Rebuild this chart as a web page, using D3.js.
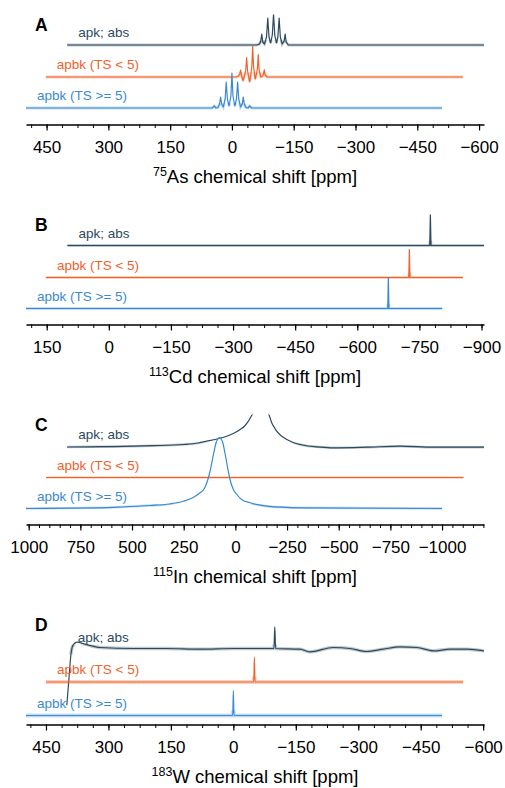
<!DOCTYPE html>
<html>
<head>
<meta charset="utf-8">
<script src="https://cdn.jsdelivr.net/npm/d3@7"></script>
<style>
  body { margin: 0; background: #fff; }
  text { font-family: "Liberation Sans", Arial, Helvetica, sans-serif; }
</style>
</head>
<body>
<svg width="505" height="788"></svg>
<script>
// Panels
// ------
var panelLetters = ['A', 'B', 'C', 'D'];
var isotopes = ['75', '113', '115', '183'];
var elements = ['As', 'Cd', 'In', 'W'];
var xDomains = [[500, -612], [200, -906], [1013, -1203], [498, -602]];
var majorTicks = [
  [450, 300, 150, 0, -150, -300, -450, -600],
  [150, 0, -150, -300, -450, -600, -750, -900],
  [1000, 750, 500, 250, 0, -250, -500, -750, -1000],
  [450, 300, 150, 0, -150, -300, -450, -600]
];
var minorSteps = [37.5, 37.5, 50, 37.5];
var smoothPanels = [false, false, true, true];

// Traces (ppm, intensity above own baseline)
// ------------------------------------------
var traceNames = ['apk; abs', 'apbk (TS < 5)', 'apbk (TS >= 5)'];
var traceColors = ['#2c4a5e', '#f0622a', '#3a8ad2'];
var stackOffsets = [[79.5, 47.5, 16.5], [79, 47, 16], [77.5, 47, 16], [75, 42.5, 9]];
var noiseLevels = [[0.8, 0.8, 0.8], [0.8, 0.8, 0.8], [0.6, 0.6, 0.6], [1.1, 1.3, 1.3]];

var asAbs = [[400, 0], [-60, 0], [-67, 1], [-70, 4], [-72.4, 11], [-74.8, 3], [-79, 1], [-84, 8],
  [-87, 27], [-90, 8], [-94, 2], [-98, 10], [-101, 31], [-104, 10], [-108, 2], [-111.5, 8],
  [-114.6, 27], [-117.5, 8], [-122, 1], [-126.8, 4], [-129.2, 11], [-131.6, 3], [-137, 0], [-612, 0]];
var asLow = [[452, 0], [-10, 0], [-16, 1], [-19, 3], [-21.1, 7], [-23.5, 1], [-27, -3.5], [-31, 2],
  [-33.5, 7], [-35.7, 19.5], [-38, 6], [-43, -5], [-46.5, 4], [-48.5, 12], [-50.3, 31], [-52.5, 10],
  [-56.5, -2], [-59.5, 3], [-62, 9], [-63.9, 22.5], [-66, 7], [-70, 0], [-74.5, 1], [-76.5, 3],
  [-78.5, 7.5], [-80.5, 2], [-85, 0], [-561, 0]];
var asHigh = [[500, 0], [48, 0], [43, 2], [39, 0], [34, 0.5], [30, 4], [27.5, 11], [25, 4], [21, 1],
  [16.5, 9], [13.8, 26], [11, 9], [7, 2], [2.5, 12], [0, 35], [-2.5, 12], [-7, 2], [-11, 9],
  [-13.8, 26], [-16.5, 9], [-21, 1], [-25, 4], [-27.5, 11], [-30, 4], [-34, 0.5], [-39, 0],
  [-43, 2], [-48, 0], [-510, 0]];

var cdAbs = [[100, 0], [-775, 0], [-776.5, 32], [-778, 0], [-906, 0]];
var cdLow = [[152, 0], [-724.3, 0], [-725.8, 28], [-727.3, 0], [-855, 0]];
var cdHigh = [[200, 0], [-673.5, 0], [-675, 31], [-676.5, 0], [-805, 0]];

var inAbs = [[814, 0], [650, 0.3], [493, 0.8], [400, 1.3], [252, 2.5], [180, 4], [138, 5.8],
  [80, 8.5], [42, 10.8], [10, 13.5], [-23, 17.5], [-45, 21], [-63, 25.8], [-79, 31.5], [-100, 38],
  [-121, 44], [-142, 38], [-164, 31.5], [-176, 24.2], [-190, 19], [-200, 15.8], [-220, 11.5],
  [-249, 7.5], [-280, 4.5], [-313, 2.5], [-350, 1], [-394, 0.2], [-474, -0.8], [-636, -0.2],
  [-797, 0.8], [-958, -0.2], [-1203, -0.2]];
var inLow = [[916, 0], [-1103, 0]];
var inHigh = [[1013, 0], [655, 0.7], [550, 1.5], [413, 3], [320, 4.5], [252, 7.3], [200, 11.5],
  [171, 15.7], [150, 20], [138, 25.7], [125, 35], [114, 45.7], [106, 54], [100, 60], [93, 66],
  [85, 69.5], [77, 70.7], [69, 69.5], [61, 66], [50, 55], [42, 46], [34, 37], [26, 29], [10, 19],
  [-7, 14], [-30, 9], [-71, 5.7], [-152, 2.3], [-313, 0.7], [-1000, 0]];

var wAbs = [[400, -55.7], [395, -29.7], [390, -4.7], [385, 4.3], [375.6, 7.3], [356, 5.3], [320, 2],
  [241, 1], [159, 1], [80, 0.3], [0, 1], [-97.5, 1], [-99.5, 23], [-101.5, 1], [-160, 0.3],
  [-184, -2.4], [-240, 2], [-280, 1], [-320, -2], [-360, 0.3], [-400, 2.6], [-441, 2],
  [-481, -1.4], [-521, 0.3], [-562, 0.3], [-602, -1.4]];
var wLow = [[450, 0], [-49, 0], [-50.5, 25], [-52, 0], [-552, 0]];
var wHigh = [[498, 0], [1.5, 0], [0, 25], [-1.5, 0], [-501, 0]];

var spectra = [[asAbs, asLow, asHigh], [cdAbs, cdLow, cdHigh], [inAbs, inLow, inHigh], [wAbs, wLow, wHigh]];

// Drawing
// -------
var svg = d3.select('svg');
var axisY = 124.5, plotTop = 110, left = 26, right = 484;

panelLetters.forEach(function (letter, p) {
  var g = svg.append('g').attr('transform', 'translate(0,' + (200 * p) + ')');

  var x = d3.scaleLinear().domain(xDomains[p]).range([left, right]);
  var y = d3.scaleLinear().domain([0, plotTop]).range([axisY, axisY - plotTop]);

  g.append('clipPath').attr('id', 'clip' + p)
   .append('rect')
   .attr('x', left).attr('y', y(plotTop))
   .attr('width', right - left).attr('height', y(0) - y(plotTop));

  var plot = g.append('g').attr('clip-path', 'url(#clip' + p + ')');

  spectra[p].forEach(function (pts, t) {
    var off = stackOffsets[p][t];
    var line = d3.line()
      .x(function (d) { return x(d[0]); })
      .y(function (d) { return y(d[1] + off); })
      .curve(smoothPanels[p] ? d3.curveMonotoneX : d3.curveLinear);

    // noise band along the baseline
    var nz = noiseLevels[p][t];
    var bandId = 'band' + p + '_' + t;
    g.append('clipPath').attr('id', bandId)
     .append('rect')
     .attr('x', left).attr('y', y(off + 4 + nz))
     .attr('width', right - left).attr('height', y(off - 4 - nz) - y(off + 4 + nz));
    plot.append('g').attr('clip-path', 'url(#' + bandId + ')')
      .append('path')
      .attr('d', line(pts))
      .attr('fill', 'none')
      .attr('stroke', traceColors[t])
      .attr('stroke-opacity', 0.3)
      .attr('stroke-width', 1.2 + 2 * nz);

    plot.append('path')
      .attr('d', line(pts))
      .attr('fill', 'none')
      .attr('stroke', traceColors[t])
      .attr('stroke-width', 1.2)
      .attr('stroke-linejoin', 'round');

    g.append('text')
      .attr('x', x(pts[0][0]) + 11)
      .attr('y', y(off) - 8)
      .attr('font-size', '13.5px')
      .attr('fill', traceColors[t])
      .text(traceNames[t]);
  });

  // axes
  var minor = d3.range(xDomains[p][1], xDomains[p][0], minorSteps[p])
    .map(function (v) { return Math.ceil(v / minorSteps[p]) * minorSteps[p]; })
    .filter(function (v) { return v <= xDomains[p][0] && v >= xDomains[p][1]; });

  var minorAxis = g.append('g').attr('transform', 'translate(0,' + axisY + ')')
    .call(d3.axisBottom(x).tickValues(minor).tickSize(3.5).tickFormat(''));
  minorAxis.select('.domain').remove();
  minorAxis.selectAll('.tick line').attr('stroke-width', 1);

  var major = g.append('g').attr('transform', 'translate(0,' + axisY + ')')
    .call(d3.axisBottom(x).tickValues(majorTicks[p]).tickFormat(d3.format('d'))
      .tickSize(6).tickSizeOuter(0).tickPadding(10));
  major.select('.domain').attr('stroke-width', 1.3);
  major.selectAll('.tick line').attr('stroke-width', 1.2);
  major.selectAll('.tick text')
    .attr('font-size', '17px')
    .attr('font-family', '"Liberation Sans", Arial, sans-serif');

  var title = g.append('text')
    .attr('x', (left + right) / 2)
    .attr('y', axisY + 58.5)
    .attr('text-anchor', 'middle')
    .attr('font-size', '18.5px')
    .attr('fill', '#000');
  title.append('tspan').attr('font-size', '12.5px').attr('dy', -7.5).text(isotopes[p]);
  title.append('tspan').attr('dy', 7.5).text(elements[p] + ' chemical shift [ppm]');

  g.append('text')
    .attr('x', 35)
    .attr('y', axisY - 93.5)
    .attr('font-size', '17.5px')
    .attr('font-weight', 'bold')
    .text(letter);
});
</script>
</body>
</html>
